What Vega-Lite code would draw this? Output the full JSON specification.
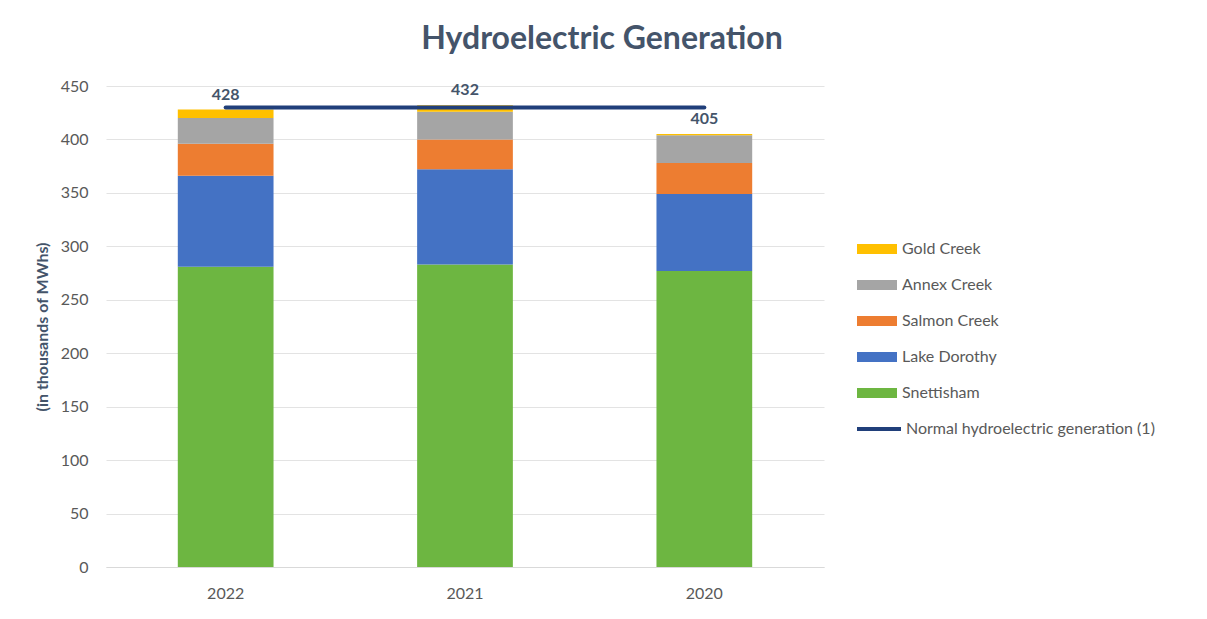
{
  "$schema": "https://vega.github.io/schema/vega-lite/v6.json",
  "width": 718,
  "height": 481,
  "autosize": {"type": "none"},
  "padding": {"left": 106, "top": 86, "right": 383, "bottom": 52},
  "background": "white",
  "view": {"stroke": null},
  "title": {
    "text": "Hydroelectric Generation",
    "font": "Lato",
    "fontSize": 32,
    "fontWeight": "bold",
    "color": "#44546A",
    "dx": 137,
    "offset": 22
  },
  "config": {
    "font": "Lato",
    "axis": {"labelFont": "Lato", "titleFont": "Lato"},
    "legend": {"labelFont": "Lato"}
  },
  "layer": [
    {
      "data": {
        "values": [
          {"year": "2022", "station": "Snettisham", "mwh": 281, "ord": 1},
          {"year": "2022", "station": "Lake Dorothy", "mwh": 85, "ord": 2},
          {"year": "2022", "station": "Salmon Creek", "mwh": 30, "ord": 3},
          {"year": "2022", "station": "Annex Creek", "mwh": 24, "ord": 4},
          {"year": "2022", "station": "Gold Creek", "mwh": 8, "ord": 5},
          {"year": "2021", "station": "Snettisham", "mwh": 283, "ord": 1},
          {"year": "2021", "station": "Lake Dorothy", "mwh": 89, "ord": 2},
          {"year": "2021", "station": "Salmon Creek", "mwh": 28, "ord": 3},
          {"year": "2021", "station": "Annex Creek", "mwh": 26, "ord": 4},
          {"year": "2021", "station": "Gold Creek", "mwh": 6, "ord": 5},
          {"year": "2020", "station": "Snettisham", "mwh": 277, "ord": 1},
          {"year": "2020", "station": "Lake Dorothy", "mwh": 72, "ord": 2},
          {"year": "2020", "station": "Salmon Creek", "mwh": 29, "ord": 3},
          {"year": "2020", "station": "Annex Creek", "mwh": 26, "ord": 4},
          {"year": "2020", "station": "Gold Creek", "mwh": 1, "ord": 5}
        ]
      },
      "layer": [
        {
          "mark": {"type": "bar"},
          "encoding": {
            "x": {
              "field": "year",
              "type": "ordinal",
              "sort": ["2022", "2021", "2020"],
              "scale": {"paddingInner": 0.6, "paddingOuter": 0.3},
              "axis": {
                "title": null,
                "labelAngle": 0,
                "ticks": false,
                "domainColor": "#D9D9D9",
                "labelColor": "#595959",
                "labelFontSize": 16,
                "labelPadding": 18
              }
            },
            "y": {
              "field": "mwh",
              "type": "quantitative",
              "aggregate": "sum",
              "scale": {"domain": [0, 450], "nice": false},
              "axis": {
                "title": "(in thousands of MWhs)",
                "titleColor": "#44546A",
                "titleFontSize": 16,
                "titleFontWeight": "bold",
                "titlePadding": 10,
                "values": [0, 50, 100, 150, 200, 250, 300, 350, 400, 450],
                "domain": false,
                "ticks": false,
                "gridColor": "#E3E3E3",
                "labelColor": "#595959",
                "labelFontSize": 16,
                "labelPadding": 18
              }
            },
            "order": {"field": "ord", "type": "quantitative"},
            "color": {
              "field": "station",
              "type": "nominal",
              "scale": {
                "domain": ["Gold Creek", "Annex Creek", "Salmon Creek", "Lake Dorothy", "Snettisham"],
                "range": ["#FFC000", "#A5A5A5", "#ED7D31", "#4472C4", "#6DB641"]
              },
              "legend": {
                "orient": "none",
                "legendX": 751,
                "legendY": 153,
                "title": null,
                "symbolType": "M-1,-0.25H1V0.25H-1Z",
                "symbolSize": 1600,
                "symbolStrokeWidth": 0,
                "clipHeight": 20,
                "rowPadding": 16,
                "labelOffset": 5,
                "labelLimit": 0,
                "labelFontSize": 16,
                "labelColor": "#595959"
              }
            }
          }
        },
        {
          "transform": [
            {"aggregate": [{"op": "sum", "field": "mwh", "as": "total"}], "groupby": ["year"]}
          ],
          "mark": {
            "type": "text",
            "baseline": "alphabetic",
            "dy": -10,
            "fontSize": 16,
            "fontWeight": "bold",
            "color": "#44546A"
          },
          "encoding": {
            "x": {"field": "year", "type": "ordinal", "sort": ["2022", "2021", "2020"]},
            "y": {"field": "total", "type": "quantitative"},
            "text": {"field": "total", "type": "quantitative"}
          }
        }
      ]
    },
    {
      "data": {
        "values": [
          {"year": "2022", "normal": 430},
          {"year": "2021", "normal": 430},
          {"year": "2020", "normal": 430}
        ]
      },
      "mark": {"type": "line", "strokeWidth": 4, "strokeCap": "round"},
      "encoding": {
        "x": {"field": "year", "type": "ordinal", "sort": ["2022", "2021", "2020"]},
        "y": {"field": "normal", "type": "quantitative"},
        "stroke": {
          "datum": "Normal hydroelectric generation (1)",
          "scale": {"range": ["#203F7A"]},
          "legend": {
            "orient": "none",
            "legendX": 749,
            "legendY": 333,
            "title": null,
            "symbolType": "stroke",
            "symbolSize": 1936,
            "symbolStrokeWidth": 4,
            "clipHeight": 20,
            "labelOffset": 3,
            "labelLimit": 0,
            "labelFontSize": 16,
            "labelColor": "#595959"
          }
        }
      }
    }
  ]
}
